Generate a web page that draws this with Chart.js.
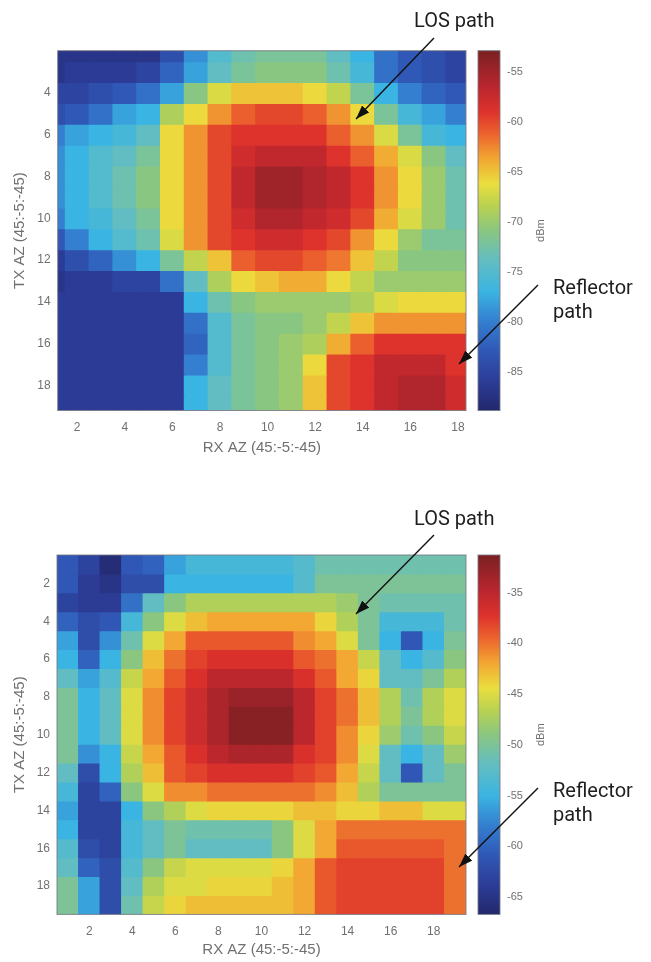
<!DOCTYPE html>
<html lang="en">
<head>
    <meta charset="UTF-8">
    <title>TX/RX azimuth power maps</title>
    <script src="https://cdn.jsdelivr.net/npm/chart.js"></script>
    <style>
        body {
            margin: 0;
            background: #fff;
            width: 651px;
            height: 962px;
            position: relative;
            overflow: hidden;
            font-family: Roboto, "Liberation Sans", Arial, sans-serif;
        }

        canvas {
            position: absolute;
            left: 0;
            filter: blur(0.5px);
        }

        #topChart { top: 0; }
        #bottomChart { top: 481px; }

        .note {
            position: absolute;
            font-size: 20px;
            line-height: 24px;
            color: #1e1e1e;
        }

        svg {
            position: absolute;
            left: 0;
            top: 0;
        }
    </style>
</head>
<body>
<canvas id="topChart" width="651" height="481"></canvas>
<canvas id="bottomChart" width="651" height="481"></canvas>

<div class="note" style="left:414px; top:8px;">LOS path</div>
<div class="note" style="left:553px; top:275px;">Reflector<br>path</div>
<div class="note" style="left:414px; top:506px;">LOS path</div>
<div class="note" style="left:553px; top:778px;">Reflector<br>path</div>

<svg width="651" height="962">
    <defs>
        <marker id="head" markerUnits="userSpaceOnUse" markerWidth="14" markerHeight="10" refX="14" refY="5" orient="auto">
            <path d="M0,0 L14,5 L0,10 z" fill="#111"/>
        </marker>
    </defs>
    <line x1="434" y1="38" x2="356" y2="119" stroke="#111" stroke-width="1.4" marker-end="url(#head)"/>
    <line x1="538" y1="285" x2="459" y2="364" stroke="#111" stroke-width="1.4" marker-end="url(#head)"/>
    <line x1="434" y1="535" x2="356" y2="614" stroke="#111" stroke-width="1.4" marker-end="url(#head)"/>
    <line x1="538" y1="788" x2="459" y2="867" stroke="#111" stroke-width="1.4" marker-end="url(#head)"/>
</svg>

<script>
    // tick labels
    const TOP_X_TICKS = [2, 4, 6, 8, 10, 12, 14, 16, 18];
    const TOP_Y_TICKS = [4, 6, 8, 10, 12, 14, 16, 18];
    const TOP_CB_TICKS = [-85, -80, -75, -70, -65, -60, -55];
    const BOTTOM_X_TICKS = [2, 4, 6, 8, 10, 12, 14, 16, 18];
    const BOTTOM_Y_TICKS = [2, 4, 6, 8, 10, 12, 14, 16, 18];
    const BOTTOM_CB_TICKS = [-65, -60, -55, -50, -45, -40, -35];

    // colour limits of each map (dBm)
    const TOP_CB_RANGE = [-88.9, -52.9];
    const BOTTOM_CB_RANGE = [-66.7, -31.3];

    // top map: TX rows 2..19, RX columns 1..18 (dBm)
    const TOP_FIRST_ROW = 2;
    const TOP_FIRST_COL = 1;
    const TOP_DBM = [
        [-87, -87, -87, -87, -87, -84, -79, -75, -73, -72, -72, -72, -74, -77, -81, -83, -84, -85],
        [-87, -86, -86, -86, -85, -82, -78, -74, -72, -71, -71, -71, -73, -76, -81, -83, -84, -85],
        [-85, -85, -84, -83, -81, -78, -71, -67, -65, -65, -65, -66, -68, -72, -77, -80, -82, -83],
        [-84, -83, -81, -78, -77, -69, -66, -63, -61, -60, -60, -61, -63, -66, -72, -76, -78, -80],
        [-80, -78, -77, -76, -74, -66, -63, -60, -59, -59, -59, -59, -61, -63, -67, -72, -76, -77],
        [-79, -77, -75, -74, -72, -66, -63, -60, -58, -57, -57, -57, -59, -61, -64, -67, -71, -74],
        [-79, -77, -75, -73, -71, -66, -63, -60, -57, -55, -55, -56, -57, -59, -63, -66, -70, -73],
        [-79, -77, -75, -73, -71, -66, -63, -60, -57, -55, -55, -56, -57, -59, -63, -66, -70, -73],
        [-80, -77, -76, -74, -72, -66, -63, -60, -58, -56, -56, -57, -58, -60, -64, -67, -70, -73],
        [-83, -80, -77, -75, -73, -67, -63, -60, -59, -58, -58, -59, -60, -63, -66, -70, -72, -72],
        [-86, -84, -82, -79, -77, -72, -68, -65, -61, -60, -60, -61, -62, -65, -68, -71, -71, -71],
        [-87, -86, -86, -85, -85, -81, -74, -69, -66, -65, -64, -64, -66, -68, -70, -70, -70, -70],
        [-86, -86, -86, -86, -86, -86, -77, -73, -71, -70, -70, -70, -70, -69, -67, -66, -66, -66],
        [-86, -86, -86, -86, -86, -86, -81, -75, -72, -71, -71, -70, -68, -65, -63, -63, -63, -63],
        [-86, -86, -86, -86, -86, -86, -82, -75, -72, -71, -70, -69, -64, -61, -59, -59, -59, -59],
        [-86, -86, -86, -86, -86, -86, -80, -75, -72, -71, -70, -66, -60, -59, -57, -57, -57, -59],
        [-86, -86, -86, -86, -86, -86, -77, -74, -72, -71, -70, -65, -60, -59, -57, -56, -56, -58],
        [-86, -86, -86, -86, -86, -86, -77, -74, -72, -71, -70, -65, -60, -59, -57, -56, -56, -58]
    ];

    // bottom map: TX rows 1..19, RX columns 1..19 (dBm)
    const BOTTOM_FIRST_ROW = 1;
    const BOTTOM_FIRST_COL = 1;
    const BOTTOM_DBM = [
        [-61, -63, -66, -61, -60, -56, -54, -54, -54, -54, -54, -53, -51, -51, -51, -51, -51, -51, -51],
        [-61, -64, -65, -62, -62, -55, -55, -55, -55, -55, -55, -53, -50, -50, -50, -50, -50, -50, -50],
        [-63, -64, -64, -59, -52, -49, -47, -47, -47, -47, -47, -47, -47, -48, -50, -51, -51, -51, -51],
        [-60, -62, -61, -54, -49, -45, -43, -42, -42, -42, -42, -42, -44, -47, -50, -54, -54, -54, -51],
        [-56, -62, -57, -51, -45, -42, -39, -39, -39, -39, -39, -41, -42, -45, -50, -55, -61, -55, -50],
        [-55, -60, -55, -49, -43, -40, -38, -37, -37, -37, -37, -39, -40, -42, -46, -52, -55, -53, -49],
        [-52, -56, -53, -46, -42, -39, -37, -35, -35, -35, -35, -37, -39, -42, -44, -52, -52, -50, -47],
        [-50, -55, -52, -45, -41, -38, -36, -34, -33, -33, -33, -35, -38, -40, -43, -47, -51, -47, -45],
        [-50, -55, -52, -45, -41, -38, -36, -34, -32, -32, -32, -35, -38, -40, -43, -47, -50, -47, -45],
        [-50, -55, -52, -45, -41, -38, -36, -34, -32, -32, -32, -35, -38, -41, -44, -48, -51, -49, -46],
        [-50, -57, -55, -46, -42, -39, -37, -35, -34, -34, -34, -37, -38, -41, -45, -52, -55, -52, -48],
        [-52, -62, -55, -47, -43, -39, -38, -37, -37, -37, -37, -38, -39, -42, -46, -52, -61, -52, -50],
        [-54, -63, -60, -49, -45, -41, -41, -40, -40, -40, -40, -40, -41, -43, -47, -50, -50, -50, -50],
        [-56, -63, -63, -55, -49, -47, -45, -44, -44, -44, -44, -43, -43, -44, -44, -43, -43, -45, -45],
        [-55, -63, -63, -54, -52, -50, -51, -51, -51, -51, -49, -45, -42, -40, -40, -40, -40, -40, -40],
        [-53, -62, -63, -54, -52, -50, -52, -52, -52, -52, -49, -45, -42, -39, -39, -39, -39, -39, -40],
        [-52, -60, -62, -53, -49, -46, -45, -45, -45, -45, -44, -42, -39, -38, -38, -38, -38, -38, -40],
        [-50, -56, -62, -52, -47, -45, -45, -44, -44, -44, -43, -42, -39, -38, -38, -38, -38, -38, -40],
        [-50, -56, -62, -51, -46, -44, -43, -43, -43, -43, -43, -42, -39, -38, -38, -38, -38, -38, -40]
    ];

    // jet-like colour map as it looks in the picture
    const CMAP = [
        [0.00, [34, 40, 108]],
        [0.08, [44, 60, 150]],
        [0.17, [48, 90, 184]],
        [0.25, [52, 128, 208]],
        [0.33, [58, 180, 226]],
        [0.42, [100, 190, 192]],
        [0.50, [138, 198, 128]],
        [0.57, [186, 210, 80]],
        [0.63, [234, 222, 62]],
        [0.70, [242, 166, 50]],
        [0.77, [236, 98, 45]],
        [0.83, [222, 50, 44]],
        [0.90, [186, 38, 46]],
        [1.00, [122, 32, 34]]
    ];

    const TEXT_COLOR = '#707070';
    const TICK_FONT = {family: '"Liberation Sans", Arial, sans-serif', size: 12};
    const TITLE_FONT = {family: '"Liberation Sans", Arial, sans-serif', size: 15};

    function rgb(c) {
        return 'rgb(' + c.map(Math.round).join(',') + ')';
    }

    function colourAt(t) {
        t = Math.max(0, Math.min(1, t));
        for (let i = 1; i < CMAP.length; i++) {
            const [t1, c1] = CMAP[i];
            const [t0, c0] = CMAP[i - 1];
            if (t <= t1) {
                const f = (t - t0) / (t1 - t0);
                return rgb(c0.map((v, k) => v + (c1[k] - v) * f));
            }
        }
        return rgb(CMAP[CMAP.length - 1][1]);
    }

    function fixedTicks(list) {
        return scale => {
            scale.ticks = list.map(value => ({value}));
        };
    }

    function createHeatmap(canvas, spec) {
        const [cbMin, cbMax] = spec.cbRange;

        const datasets = spec.grid.map((row, i) => {
            const tx = spec.firstRow + i;
            return {
                data: row.map((dbm, j) => ({x: spec.firstCol + j, y: [tx - 0.5, tx + 0.5], dbm})),
                backgroundColor: ctx => ctx.raw ? colourAt((ctx.raw.dbm - cbMin) / (cbMax - cbMin)) : 'transparent',
                borderWidth: 0,
                inflateAmount: 0.5,
                barPercentage: 1,
                categoryPercentage: 1,
                grouped: false,
                clip: 0
            };
        });

        const colourbar = {
            id: 'colourbar',
            afterDraw(chart) {
                const {ctx, chartArea: a, scales} = chart;
                const cb = scales.cb;
                const yTop = cb.getPixelForValue(cbMax);
                const yBot = cb.getPixelForValue(cbMin);
                const x0 = a.right + 12;
                const w = 22;
                const g = ctx.createLinearGradient(0, yBot, 0, yTop);
                CMAP.forEach(([t, c]) => g.addColorStop(t, rgb(c)));

                ctx.save();
                ctx.fillStyle = g;
                ctx.fillRect(x0, yTop, w, yBot - yTop);
                ctx.strokeStyle = 'rgba(120,120,130,0.85)';
                ctx.lineWidth = 1;
                ctx.strokeRect(x0, yTop, w, yBot - yTop);
                ctx.strokeRect(a.left, a.top, a.right - a.left, a.bottom - a.top);

                ctx.translate(a.right + 75, (a.top + a.bottom) / 2);
                ctx.rotate(-Math.PI / 2);
                ctx.font = '11px "Liberation Sans", Arial, sans-serif';
                ctx.fillStyle = TEXT_COLOR;
                ctx.textAlign = 'center';
                ctx.textBaseline = 'middle';
                ctx.fillText('dBm', 0, 0);
                ctx.restore();
            }
        };

        return new Chart(canvas, {
            type: 'bar',
            data: {datasets},
            plugins: [colourbar],
            options: {
                responsive: false,
                animation: false,
                devicePixelRatio: 1,
                events: [],
                layout: {padding: {top: spec.area.top, left: 0, right: 0, bottom: 0}},
                plugins: {legend: {display: false}, tooltip: {enabled: false}},
                scales: {
                    x: {
                        type: 'linear',
                        position: 'bottom',
                        min: spec.xRange[0],
                        max: spec.xRange[1],
                        offset: false,
                        grid: {display: false, drawTicks: false},
                        border: {display: false},
                        ticks: {padding: 10, font: TICK_FONT, color: TEXT_COLOR, autoSkip: false, maxRotation: 0},
                        afterBuildTicks: fixedTicks(spec.xTicks),
                        afterFit: s => { s.height = 481 - spec.area.bottom; },
                        title: {
                            display: true, text: 'RX AZ (45:-5:-45)', font: TITLE_FONT, color: TEXT_COLOR,
                            padding: {top: 0, bottom: spec.xTitlePad}
                        }
                    },
                    y: {
                        type: 'linear',
                        position: 'left',
                        reverse: true,
                        min: spec.yRange[0],
                        max: spec.yRange[1],
                        grid: {display: false, drawTicks: false},
                        border: {display: false},
                        ticks: {padding: 7, font: TICK_FONT, color: TEXT_COLOR, autoSkip: false},
                        afterBuildTicks: fixedTicks(spec.yTicks),
                        afterFit: s => { s.width = spec.area.left; },
                        title: {
                            display: true, text: 'TX AZ (45:-5:-45)', font: TITLE_FONT, color: TEXT_COLOR,
                            padding: {top: 11, bottom: 0}
                        }
                    },
                    cb: {
                        type: 'linear',
                        position: 'right',
                        min: cbMin,
                        max: cbMax,
                        grid: {display: false, drawTicks: false},
                        border: {display: false},
                        ticks: {padding: 41, font: {family: TICK_FONT.family, size: 11}, color: TEXT_COLOR, autoSkip: false},
                        afterBuildTicks: fixedTicks(spec.cbTicks),
                        afterFit: s => { s.width = 651 - spec.area.right; }
                    }
                }
            }
        });
    }

    createHeatmap(document.getElementById('topChart'), {
        grid: TOP_DBM,
        firstRow: TOP_FIRST_ROW,
        firstCol: TOP_FIRST_COL,
        xRange: [1.18, 18.34],
        yRange: [1.975, 19.2],
        xTicks: TOP_X_TICKS,
        yTicks: TOP_Y_TICKS,
        cbTicks: TOP_CB_TICKS,
        cbRange: TOP_CB_RANGE,
        area: {left: 57.7, right: 466, top: 50.7, bottom: 410.5},
        xTitlePad: 24
    });

    createHeatmap(document.getElementById('bottomChart'), {
        grid: BOTTOM_DBM,
        firstRow: BOTTOM_FIRST_ROW,
        firstCol: BOTTOM_FIRST_COL,
        xRange: [0.5, 19.5],
        yRange: [0.5, 19.5],
        xTicks: BOTTOM_X_TICKS,
        yTicks: BOTTOM_Y_TICKS,
        cbTicks: BOTTOM_CB_TICKS,
        cbRange: BOTTOM_CB_RANGE,
        area: {left: 57, right: 466, top: 74, bottom: 434},
        xTitlePad: 3
    });
</script>
</body>
</html>
